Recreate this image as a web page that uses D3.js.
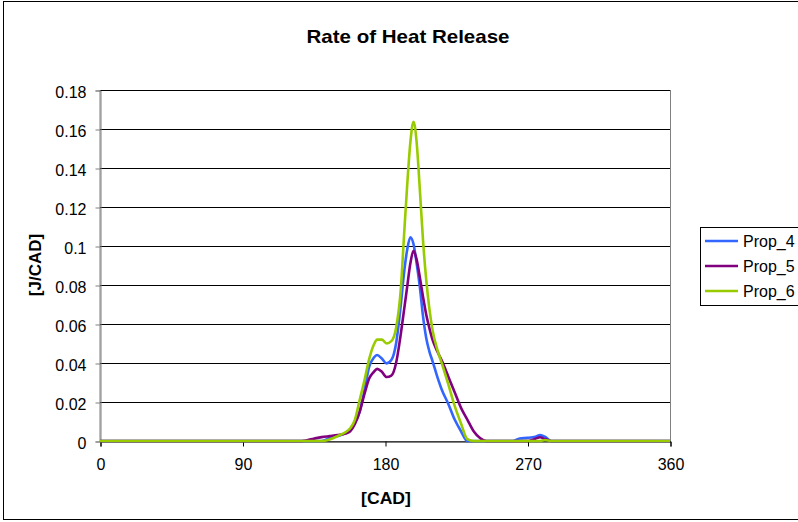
<!DOCTYPE html>
<html>
<head>
<meta charset="utf-8">
<script src="https://cdn.jsdelivr.net/npm/d3@7"></script>
<style>
	body { margin: 0; background: #fff; }
	text { font-family: Arial, "Liberation Sans", sans-serif; fill: #000; }
</style>
</head>
<body>
<script>
// crank angle samples [CAD]
var cad = [0, 125, 130, 135, 140, 145, 150, 155, 158, 161, 164, 167, 170, 173, 175, 178, 181, 184, 187, 190,
	192, 194, 196, 198, 200, 202, 204, 206, 208, 210, 213, 216, 220, 224, 228, 232, 236, 240, 244, 255,
	261, 265, 270, 275, 278, 281, 285, 295, 360];

// rate of heat release per series [J/CAD]
var prop4 = [0, 0, 0, 0, 0, 0.0015, 0.0025, 0.004, 0.0058, 0.0095, 0.015, 0.026, 0.038, 0.0428, 0.0441, 0.0423, 0.0398, 0.0415, 0.050, 0.070,
	0.086, 0.098, 0.1045, 0.101, 0.091, 0.079, 0.064, 0.053, 0.046, 0.041, 0.033, 0.026, 0.019, 0.011, 0.005, 0, 0, 0, 0, 0,
	0, 0.0013, 0.0016, 0.0022, 0.003, 0.0022, 0, 0, 0];

var prop5 = [0, 0, 0.0003, 0.0012, 0.002, 0.0025, 0.003, 0.0038, 0.005, 0.0088, 0.015, 0.024, 0.032, 0.0355, 0.037, 0.0355, 0.0328, 0.0335, 0.040, 0.055,
	0.067, 0.079, 0.091, 0.0975, 0.093, 0.084, 0.074, 0.065, 0.058, 0.052, 0.046, 0.041, 0.033, 0.025, 0.017, 0.011, 0.005, 0.0015, 0, 0,
	0, 0, 0, 0.0012, 0.0019, 0.001, 0, 0, 0];

var prop6 = [0, 0, 0, 0, 0, 0.0008, 0.0025, 0.0045, 0.0065, 0.011, 0.021, 0.031, 0.042, 0.0495, 0.052, 0.052, 0.050, 0.0512, 0.058, 0.078,
	0.105, 0.131, 0.153, 0.1637, 0.153, 0.129, 0.103, 0.083, 0.068, 0.057, 0.047, 0.0395, 0.029, 0.018, 0.009, 0.001, 0, 0, 0, 0,
	0, 0, 0, 0, 0, 0.0005, 0, 0, 0];

var seriesNames = ['Prop_4', 'Prop_5', 'Prop_6'];
var seriesColors = ['#3366ff', '#800080', '#99cc00'];
var xTicks = [0, 90, 180, 270, 360];
var yTicks = [0, 0.02, 0.04, 0.06, 0.08, 0.1, 0.12, 0.14, 0.16, 0.18];

var width = 798,
	height = 522;

// plot area
var plot = { left: 100, right: 670, top: 90, bottom: 441 };

var svg = d3.select('body')
	.append('svg')
	.attr('width', width)
	.attr('height', height);

// chart border
svg.append('rect')
	.attr('x', 3.5).attr('y', 1.5)
	.attr('width', 820).attr('height', 518)
	.attr('fill', '#fff')
	.attr('stroke', '#000');

var x = d3.scaleLinear().domain([0, 360]).range([plot.left, plot.right]);
var y = d3.scaleLinear().domain([0, 0.18]).range([plot.bottom, plot.top]);

// plot area border
svg.append('rect')
	.attr('x', plot.left).attr('y', plot.top + 0.5)
	.attr('width', plot.right - plot.left + 0.5)
	.attr('height', plot.bottom - plot.top)
	.attr('fill', 'none')
	.attr('stroke', '#808080');

// gridlines
svg.append('g')
	.selectAll('line')
	.data(yTicks.slice(1))
	.enter().append('line')
	.attr('x1', plot.left).attr('x2', plot.right)
	.attr('y1', function(d) { return Math.round(y(d)) + 0.5; })
	.attr('y2', function(d) { return Math.round(y(d)) + 0.5; })
	.attr('stroke', '#000');

// y axis
var yAxis = svg.append('g')
	.attr('transform', 'translate(' + (plot.left + 0.5) + ',0.5)')
	.call(d3.axisLeft(y).tickValues(yTicks).tickSize(5).tickPadding(9)
		.tickFormat(function(d) { return String(+d.toFixed(2)); }));
yAxis.select('.domain').attr('stroke', '#808080');
yAxis.selectAll('.tick line').attr('stroke', '#808080');
yAxis.selectAll('text')
	.style('font-size', '16px')
	.attr('dy', '0.45em');

// x axis
var xAxis = svg.append('g')
	.attr('transform', 'translate(0.5,' + (plot.bottom + 0.5) + ')')
	.call(d3.axisBottom(x).tickValues(xTicks).tickSize(5).tickPadding(12));
xAxis.select('.domain').attr('stroke', '#000');
xAxis.selectAll('.tick line').attr('stroke', '#000');
xAxis.selectAll('text')
	.style('font-size', '16px');

// series lines
var line = d3.line()
	.x(function(d) { return x(d[0]); })
	.y(function(d) { return y(d[1]); })
	.curve(d3.curveMonotoneX);

var series = [prop4, prop5, prop6].map(function(vals, i) {
	return { name: seriesNames[i], color: seriesColors[i], points: cad.map(function(c, j) { return [c, vals[j]]; }) };
});

svg.append('g')
	.selectAll('path')
	.data(series)
	.enter().append('path')
	.attr('d', function(d) { return line(d.points); })
	.attr('fill', 'none')
	.attr('stroke', function(d) { return d.color; })
	.attr('stroke-width', 2.6)
	.attr('stroke-linejoin', 'round');

// title and axis labels (stretched a little, like the original)
svg.append('text')
	.attr('transform', 'translate(408,43) scale(1.14,1)')
	.attr('text-anchor', 'middle')
	.style('font-size', '18px')
	.style('font-weight', 'bold')
	.text('Rate of Heat Release');

svg.append('text')
	.attr('transform', 'translate(386,504) scale(1.1,1)')
	.attr('text-anchor', 'middle')
	.style('font-size', '16px')
	.style('font-weight', 'bold')
	.text('[CAD]');

svg.append('text')
	.attr('transform', 'translate(41,265) rotate(-90)')
	.attr('text-anchor', 'middle')
	.style('font-size', '17px')
	.style('font-weight', 'bold')
	.text('[J/CAD]');

// legend
var legend = svg.append('g');
legend.append('rect')
	.attr('x', 700.5).attr('y', 227.5)
	.attr('width', 120).attr('height', 78)
	.attr('fill', '#fff')
	.attr('stroke', '#000');

var item = legend.selectAll('g')
	.data(series)
	.enter().append('g')
	.attr('transform', function(d, i) { return 'translate(0,' + (241 + i * 25) + ')'; });

item.append('line')
	.attr('x1', 705).attr('x2', 738)
	.attr('stroke', function(d) { return d.color; })
	.attr('stroke-width', 2.6);

item.append('text')
	.attr('x', 743)
	.attr('dy', '0.36em')
	.style('font-size', '16px')
	.text(function(d) { return d.name; });
</script>
</body>
</html>
